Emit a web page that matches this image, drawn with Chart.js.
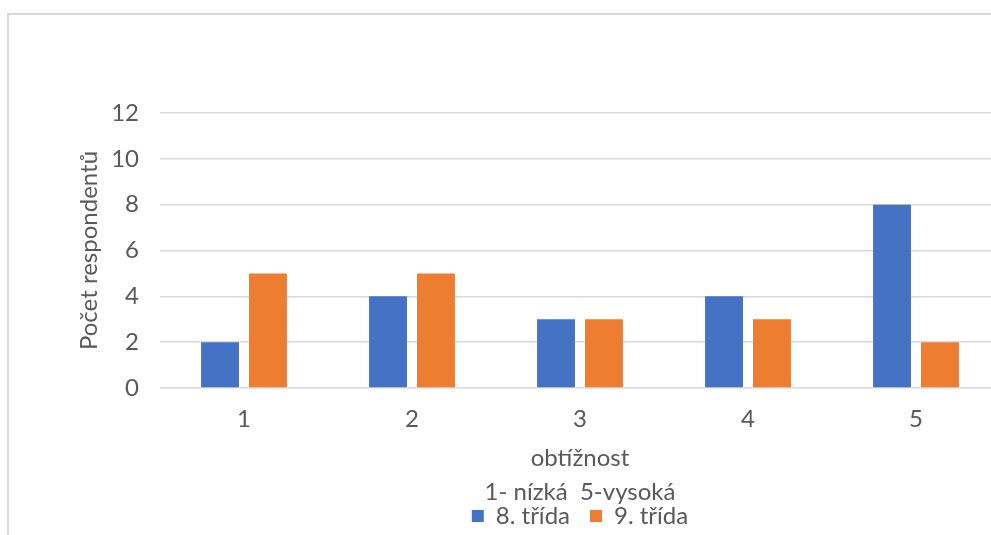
<!DOCTYPE html>
<html>
<head>
<meta charset="utf-8">
<script src="https://cdn.jsdelivr.net/npm/chart.js@4/dist/chart.umd.min.js"></script>
<style>
    html, body { margin: 0; padding: 0; background: #fff; overflow: hidden; width: 991px; height: 535px; }
    #ramecek { position: absolute; left: 7px; top: 13px; width: 1300px; height: 700px;
               border-left: 2px solid #d9d9d9; border-top: 2px solid #d9d9d9; }
    #graf { position: absolute; left: 0; top: 0; }
</style>
</head>
<body>
<div id="ramecek"></div>
<canvas id="graf" width="1010" height="535"></canvas>
<script>
const kategorie = ['1', '2', '3', '4', '5'];
const trida8 = [2, 4, 3, 4, 8];
const trida9 = [5, 5, 3, 3, 2];
const popisOsyX = ['obtížnost', '1- nízká  5-vysoká'];
const popisOsyY = 'Počet respondentů';

const pismo = 'Lato, "Open Sans", sans-serif';
const velikost = 24;
const sedaText = '#595959';
const sedaMrizka = '#d9d9d9';

const datosGraf = {
    labels: kategorie,
    datasets: [
        {
            label: '8. třída',
            data: trida8,
            backgroundColor: '#4472c4',
            categoryPercentage: 0.571,
            barPercentage: 0.79
        },
        {
            label: '9. třída',
            data: trida9,
            backgroundColor: '#ed7d31',
            categoryPercentage: 0.571,
            barPercentage: 0.79
        }
    ]
};

const configGraf = {
    type: 'bar',
    data: datosGraf,
    options: {
        responsive: false,
        animation: false,
        devicePixelRatio: 1,
        layout: { padding: { top: 113, left: 0, right: 10, bottom: -3 } },
        plugins: {
            tooltip: { enabled: false },
            legend: {
                position: 'bottom',
                fullSize: false,
                labels: {
                    boxWidth: 12,
                    boxHeight: 12,
                    padding: 20,
                    color: sedaText,
                    font: { family: pismo, size: velikost }
                }
            }
        },
        scales: {
            x: {
                grid: { display: false },
                border: { display: false },
                ticks: { color: sedaText, font: { family: pismo, size: velikost }, padding: 9 },
                title: {
                    display: true,
                    text: popisOsyX,
                    color: sedaText,
                    font: { family: pismo, size: velikost, lineHeight: 1.417 },
                    padding: { top: 0, bottom: -25 }
                },
                afterFit: (osa) => { osa.height = 96; }
            },
            y: {
                min: 0,
                max: 12,
                ticks: { stepSize: 2, color: sedaText, font: { family: pismo, size: velikost }, padding: 21 },
                grid: { color: sedaMrizka, lineWidth: 1.5, drawTicks: false },
                border: { display: false },
                title: {
                    display: true,
                    text: popisOsyY,
                    color: sedaText,
                    font: { family: pismo, size: velikost },
                    padding: { top: 75, bottom: 0 }
                },
                afterFit: (osa) => { osa.width = 160; }
            }
        }
    }
};

const graf = new Chart(document.getElementById('graf'), configGraf);
</script>
</body>
</html>
